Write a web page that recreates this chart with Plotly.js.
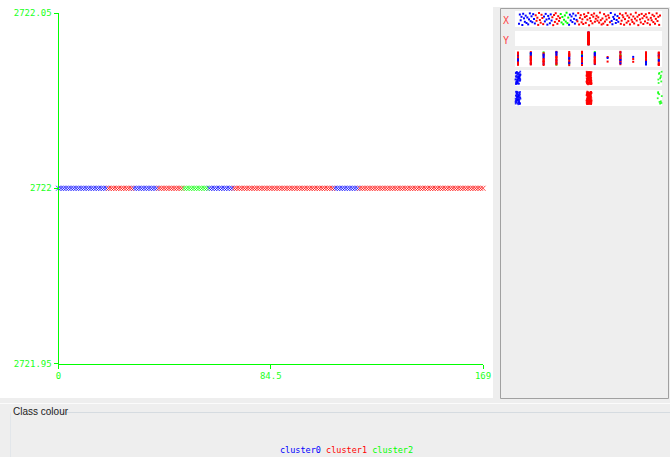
<!DOCTYPE html>
<html>
<head>
<meta charset="utf-8">
<script src="https://cdn.plot.ly/plotly-3.0.1.min.js"></script>
<style>
html,body{margin:0;padding:0;background:#eeeeee;}
#chart{width:670px;height:457px;}
</style>
</head>
<body>
<div id="chart"></div>
<script>
// ---------------- data ----------------
const clusterNames = ['cluster0', 'cluster1', 'cluster2'];
const clusterColors = ['#0000ff', '#ff0000', '#00ff00'];
// consecutive runs of instances: [cluster index, number of instances]
const clusterRuns = [[0, 20], [1, 10], [0, 10], [1, 10], [2, 10], [0, 10], [1, 40], [0, 10], [1, 50]];
const yValue = 2722;              // Y of every instance
const xTickVals = [0, 84.5, 169];
const xTickText = ['0', '84.5', '169'];
const yTickVals = [2721.95, 2722, 2722.05];
const yTickText = ['2721.95', '2722', '2722.05'];
const stripLabels = ['X', 'Y'];
// third attribute strip: instances per discrete level and cluster
const level3Blue  = [5, 5, 5, 5, 5, 5, 5, 1, 5, 1, 4, 4];
const level3Red   = [11, 11, 10, 11, 10, 11, 11, 2, 10, 2, 10, 11];
const level3Green = [1, 1, 1, 1, 1, 1, 1, 0, 1, 0, 1, 1];
// display jitter used by the attribute strips (percent of strip height)
const jitter = [12,85,40,67,3,91,55,28,76,19,62,8,47,94,33,71,25,88,50,15,
  79,36,60,4,97,42,21,83,58,10,69,31,90,46,6,74,53,17,86,38,
  64,2,81,27,95,49,13,72,35,57,89,23,66,9,44,78,30,99,18,61,
  5,84,39,70,26,92,51,14,77,43,32,96,7,59,80,24,48,11,87,65,
  20,73,45,98,1,56,34,82,16,68,93,29,52,75,37,63,22,100,41,7,
  54,14,88,30,71,46,3,79,60,25,97,35,9,66,50,84,19,42,73,28,
  58,91,12,37,80,64,5,49,95,21,76,33,61,8,86,44,27,70,15,53,
  99,38,68,2,82,47,23,90,56,11,74,31,87,63,18,45,96,6,59,40,
  83,26,72,13,51,94,34,67,4,78];

// ---------------- helpers ----------------
const W = 670, H = 457;
const fx = p => p / W;
const fy = p => 1 - p / H;
const jy = k => 0.1 + 0.8 * jitter[((k % 170) + 170) % 170] / 100;

const clusterOf = [];
clusterRuns.forEach(([c, n]) => { for (let k = 0; k < n; k++) clusterOf.push(c); });

const traces = [];
// main scatter
for (let c = 0; c < 3; c++) {
  const xs = [], ys = [];
  clusterOf.forEach((cl, i) => { if (cl === c) { xs.push(i); ys.push(yValue); } });
  traces.push({
    type: 'scatter', mode: 'markers', x: xs, y: ys, name: clusterNames[c],
    xaxis: 'x', yaxis: 'y', hoverinfo: 'skip', cliponaxis: false,
    marker: {symbol: 'x-thin-open', size: 5, color: clusterColors[c], line: {width: 1, color: clusterColors[c]}, opacity: 0.75}
  });
}
const dot = cols => ({symbol: 'square', size: 2, color: cols, line: {width: 0}});
// strip 1: X attribute (instance index)
traces.push({type: 'scatter', mode: 'markers', xaxis: 'x2', yaxis: 'y2', hoverinfo: 'skip', cliponaxis: false,
  x: clusterOf.map((c, i) => i), y: clusterOf.map((c, i) => jy(i)),
  marker: dot(clusterOf.map(c => clusterColors[c]))});
// strip 2: Y attribute (constant)
traces.push({type: 'scatter', mode: 'markers', xaxis: 'x3', yaxis: 'y3', hoverinfo: 'skip', cliponaxis: false,
  x: clusterOf.map(() => yValue), y: clusterOf.map((c, i) => jy(i + 50)),
  marker: dot(clusterOf.map(c => clusterColors[c]))});
// strip 3: discrete attribute
{
  const xs = [], ys = [], cs = [];
  let k = 7;
  const counts = [level3Blue, level3Red, level3Green];
  for (let L = 0; L < level3Blue.length; L++) {
    const small = (level3Blue[L] + level3Red[L] + level3Green[L]) < 5;
    const left = [level3Blue[L], level3Red[L], level3Green[L]];
    // interleave the clusters so the colours mix along the column
    while (left[0] + left[1] + left[2] > 0) {
      [1, 0, 1, 2].forEach(c => {
        if (left[c] > 0) {
          left[c]--;
          xs.push(L);
          const v = jy(k++);
          ys.push(small ? 0.3 + (v - 0.1) * 0.45 : v);
          cs.push(clusterColors[c]);
        }
      });
    }
  }
  traces.push({type: 'scatter', mode: 'markers', xaxis: 'x4', yaxis: 'y4', hoverinfo: 'skip', cliponaxis: false,
    x: xs, y: ys, marker: dot(cs)});
}
// strips 4 & 5: cluster attribute
[['x5', 'y5', 37, 90], ['x6', 'y6', 113, 21]].forEach(([xa, ya, ox, oy]) => {
  traces.push({type: 'scatter', mode: 'markers', xaxis: xa, yaxis: ya, hoverinfo: 'skip', cliponaxis: false,
    x: clusterOf.map((c, i) => c + (jitter[(i + ox) % 170] - 50) / 100 * 0.07),
    y: clusterOf.map((c, i) => jy(i + oy)),
    marker: {symbol: 'square', size: 1.8, color: clusterOf.map(c => clusterColors[c]), line: {width: 0}, opacity: 0.8}});
});

// ---------------- layout ----------------
const green = '#00ff00';
const monoFont = {family: 'DejaVu Sans Mono, Liberation Mono, monospace', size: 9, color: '#22ff22'};
const hidden = (dom, rng) => ({domain: dom, range: rng, visible: false, fixedrange: true});
const stripX = [fx(515), fx(662)];
const stripY = [[11, 27], [31, 46], [50, 67], [70, 86], [90, 106]];

const layout = {
  width: W, height: H,
  margin: {l: 0, r: 0, t: 0, b: 0, pad: 0},
  paper_bgcolor: '#eeeeee', plot_bgcolor: 'rgba(0,0,0,0)',
  showlegend: false,
  xaxis: {
    domain: [fx(58.5), fx(483)], range: [0, 169], anchor: 'y',
    showline: true, linecolor: green, linewidth: 1, showgrid: false, zeroline: false,
    tickmode: 'array', tickvals: xTickVals, ticktext: xTickText,
    ticks: 'outside', ticklen: 4, tickcolor: green, tickfont: monoFont, fixedrange: true
  },
  yaxis: {
    domain: [fy(363.5), fy(13)], range: [2721.95, 2722.05], anchor: 'x',
    showline: true, linecolor: green, linewidth: 1, showgrid: false, zeroline: false,
    tickmode: 'array', tickvals: yTickVals, ticktext: yTickText,
    ticks: 'outside', ticklen: 4, tickcolor: green, tickfont: monoFont, fixedrange: true
  },
  xaxis2: hidden(stripX, [-4.8, 171.4]), yaxis2: hidden([fy(stripY[0][1]), fy(stripY[0][0])], [0, 1]),
  xaxis3: hidden(stripX, [yValue - 1, yValue + 1]), yaxis3: hidden([fy(stripY[1][1]), fy(stripY[1][0])], [0, 1]),
  xaxis4: hidden(stripX, [-0.234, 11.25]), yaxis4: hidden([fy(stripY[2][1]), fy(stripY[2][0])], [0, 1]),
  xaxis5: hidden(stripX, [-0.042, 2.028]), yaxis5: hidden([fy(stripY[3][1]), fy(stripY[3][0])], [0, 1]),
  xaxis6: hidden(stripX, [-0.042, 2.028]), yaxis6: hidden([fy(stripY[4][1]), fy(stripY[4][0])], [0, 1]),
  shapes: [
    {type: 'rect', xref: 'paper', yref: 'paper', x0: 0, x1: fx(493), y0: fy(398), y1: 1, fillcolor: '#ffffff', line: {width: 0}, layer: 'below'},
    {type: 'rect', xref: 'paper', yref: 'paper', x0: fx(493), x1: 1, y0: fy(7), y1: 1, fillcolor: '#ffffff', line: {width: 0}, layer: 'below'},
    {type: 'rect', xref: 'paper', yref: 'paper', x0: fx(500.5), x1: fx(668.5), y0: fy(398.5), y1: fy(8.5), fillcolor: '#eeeeee', line: {width: 1, color: '#a0a0a0'}, layer: 'below'},
    ...stripY.map(([a, b]) => ({type: 'rect', xref: 'paper', yref: 'paper', x0: stripX[0], x1: stripX[1], y0: fy(b), y1: fy(a), fillcolor: '#ffffff', line: {width: 0}, layer: 'below'})),
    {type: 'line', xref: 'paper', yref: 'paper', x0: 0, x1: 1, y0: fy(403.5), y1: fy(403.5), line: {width: 1, color: '#fbfbfb'}, layer: 'below'},
    {type: 'line', xref: 'paper', yref: 'paper', x0: fx(47), x1: 1, y0: fy(412.5), y1: fy(412.5), line: {width: 1, color: '#d5dbe0'}, layer: 'below'},
    {type: 'line', xref: 'paper', yref: 'paper', x0: fx(10.5), x1: fx(10.5), y0: 0, y1: fy(412.5), line: {width: 1, color: '#e2e6ea'}, layer: 'below'}
  ],
  annotations: [
    {xref: 'paper', yref: 'paper', x: fx(11), y: fy(411), xanchor: 'left', yanchor: 'middle', showarrow: false,
      text: 'Class colour', font: {family: 'Liberation Sans, Arial, sans-serif', size: 10, color: '#222222'}},
    {xref: 'paper', yref: 'paper', x: fx(506), y: fy(20), xanchor: 'center', yanchor: 'middle', showarrow: false,
      text: stripLabels[0], font: {family: 'DejaVu Sans Mono, monospace', size: 10, color: '#ff4a4a'}},
    {xref: 'paper', yref: 'paper', x: fx(506), y: fy(41), xanchor: 'center', yanchor: 'middle', showarrow: false,
      text: stripLabels[1], font: {family: 'DejaVu Sans Mono, monospace', size: 10, color: '#ff4a4a'}},
    {xref: 'paper', yref: 'paper', x: fx(346), y: fy(450), xanchor: 'center', yanchor: 'middle', showarrow: false,
      text: clusterNames.map((n, i) => '<span style="color:' + clusterColors[i] + '">' + n + '</span>').join(' '),
      font: {family: 'DejaVu Sans Mono, Liberation Mono, monospace', size: 8.5, color: '#000000'}}
  ]
};

Plotly.newPlot('chart', traces, layout, {displayModeBar: false, staticPlot: true});
</script>
</body>
</html>
